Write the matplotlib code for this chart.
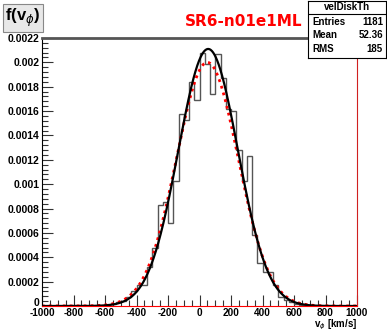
import numpy as np
import matplotlib
matplotlib.use("Agg")
import matplotlib.pyplot as plt
import matplotlib.transforms as mtransforms
from matplotlib.ticker import MultipleLocator, FixedLocator, FixedFormatter

# ---------------- data ----------------
x_min, x_max, n_bins = -1000.0, 1000.0, 60
hist_values = [0, 0, 0, 0, 0, 0, 0, 0, 0, 0,
               0, 0, 0, 0.000015, 0.00003, 0.00004, 0.000074, 0.000123, 0.000172, 0.000172,
               0.00032, 0.000475, 0.00083, 0.00085, 0.00068, 0.00103, 0.00158, 0.00153, 0.00184, 0.00169,
               0.00208, 0.00199, 0.00174, 0.00207, 0.00187, 0.00162, 0.00160, 0.00128, 0.00103, 0.00123,
               0.00058, 0.00035, 0.00028, 0.00028, 0.00017, 0.00007, 0.00005, 0.00003, 0.00002, 0.00001,
               0, 0, 0, 0, 0, 0, 0, 0, 0, 0]
# fitted gaussian (black solid) and model (red dotted): amplitude, mean, sigma
fit_black = (0.00211, 55.0, 189.0)
fit_red = (0.00200, 50.0, 196.0)

x_ticks = [-1000, -800, -600, -400, -200, 0, 200, 400, 600, 800, 1000]
x_tick_labels = ["-1000", "-800", "-600", "-400", "-200", "0", "200", "400", "600", "800", "1000"]
y_ticks = [0, 0.0002, 0.0004, 0.0006, 0.0008, 0.001, 0.0012, 0.0014, 0.0016, 0.0018, 0.002, 0.0022]
y_tick_labels = ["0", "0.0002", "0.0004", "0.0006", "0.0008", "0.001", "0.0012", "0.0014",
                 "0.0016", "0.0018", "0.002", "0.0022"]

title_text = "SR6-n01e1ML"
stats_name = "velDiskTh"
stats_rows = [("Entries", "1181"), ("Mean", "52.36"), ("RMS", "185")]

# ---------------- figure ----------------
plt.rcParams['font.family'] = ['Liberation Sans', 'DejaVu Sans']
fig = plt.figure(figsize=(3.87, 3.32), dpi=100)
ax = fig.add_axes([42/387, 26/332, 315/387, 268/332])

edges = np.linspace(x_min, x_max, n_bins + 1)
ax.stairs(hist_values, edges, color="#555555", linewidth=1.0, zorder=2)

xs = np.linspace(x_min, x_max, 800)
def gauss(p):
    a, m, s = p
    return a * np.exp(-0.5 * ((xs - m) / s) ** 2)

ax.plot(xs, gauss(fit_red), color="red", linestyle=(0, (1, 1.5)), linewidth=2.0, zorder=3)
ax.plot(xs, gauss(fit_black), color="black", linewidth=1.6, zorder=4)

ax.set_xlim(x_min, x_max)
ax.set_ylim(0, 0.0022)

ax.xaxis.set_major_locator(FixedLocator(x_ticks))
ax.xaxis.set_major_formatter(FixedFormatter(x_tick_labels))
ax.xaxis.set_minor_locator(MultipleLocator(50))
ax.yaxis.set_major_locator(FixedLocator(y_ticks))
ax.yaxis.set_major_formatter(FixedFormatter(y_tick_labels))
ax.yaxis.set_minor_locator(MultipleLocator(0.00004))

ax.tick_params(axis="both", which="both", direction="in", top=False, right=False,
               labelsize=7.5, color="#333333")
ax.tick_params(axis="x", which="both", pad=1.5, labelsize=7.2)
ax.tick_params(axis="y", which="both", pad=2)
ax.tick_params(axis="both", which="major", length=8, width=0.8)
ax.tick_params(axis="both", which="minor", length=4, width=0.8)
for lbl in ax.get_xticklabels() + ax.get_yticklabels():
    lbl.set_fontweight("bold")
# nudge the "0" y label up a little (as in the reference)
zero_lbl = ax.get_yticklabels()[0]
zero_lbl.set_transform(zero_lbl.get_transform() +
                       mtransforms.ScaledTranslation(0, 4/100, fig.dpi_scale_trans))

ax.spines["left"].set_color("black")
ax.spines["bottom"].set_color("red")
ax.spines["right"].set_color("#d02020")
ax.spines["top"].set_color("#555555")
ax.spines["top"].set_linewidth(2.0)
for s in ax.spines.values():
    s.set_zorder(5)

# title
fig.text(244/387, 1 - 22/332, title_text, color="red", fontsize=11, fontweight="bold",
         ha="center", va="center", family=['DejaVu Sans'])

# y-label box
fig.text(23/387, 1 - 18/332, r"f(v$_\phi$)", fontsize=12, ha="center", va="center",
         fontweight="bold",
         bbox=dict(boxstyle="square,pad=0.15", facecolor="#e8e8e8", edgecolor="#888888", linewidth=0.8))

# x-label
fig.text(357/387, 0.5/332, r"v$_\phi$ [km/s]", fontsize=7, ha="right", va="bottom", fontweight="bold")

# stats box
bx0, by0, bw, bh = 308/387, 1 - 58/332, 78/387, 57/332
sax = fig.add_axes([bx0, by0, bw, bh])
sax.set_xlim(0, 1); sax.set_ylim(0, 1)
sax.set_xticks([]); sax.set_yticks([])
sax.set_facecolor("white")
for s in sax.spines.values():
    s.set_color("black"); s.set_linewidth(0.8)
sax.axhline(0.78, color="black", linewidth=0.8)
sax.text(0.5, 0.89, stats_name, ha="center", va="center", fontsize=7, fontweight="bold")
row_y = [0.64, 0.40, 0.15]
for (k, v), yy in zip(stats_rows, row_y):
    sax.text(0.05, yy, k, ha="left", va="center", fontsize=7, fontweight="bold")
    sax.text(0.96, yy, v, ha="right", va="center", fontsize=7, fontweight="bold")

fig.savefig("out.png", dpi=100)
